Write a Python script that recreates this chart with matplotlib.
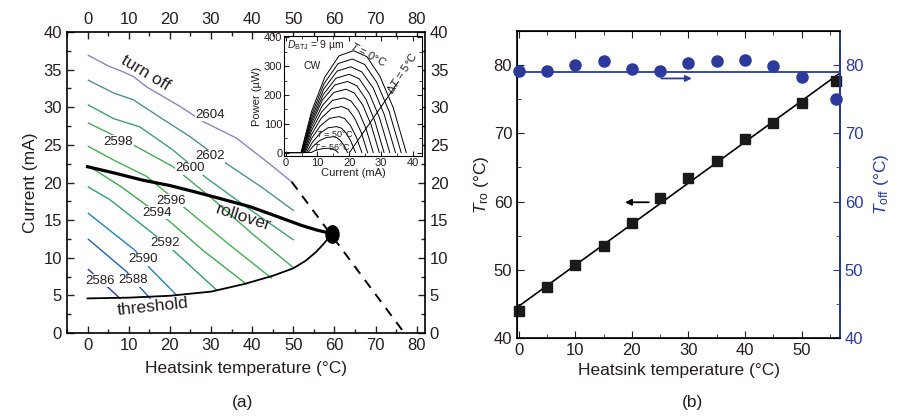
import numpy as np
import matplotlib
matplotlib.use("Agg")
import matplotlib.pyplot as plt
from matplotlib.path import Path
from matplotlib.ticker import MultipleLocator

plt.rcParams['font.family'] = ['Liberation Sans', 'DejaVu Sans']
plt.rcParams['mathtext.fontset'] = 'custom'
plt.rcParams['mathtext.rm'] = 'Liberation Sans'
plt.rcParams['mathtext.it'] = 'Liberation Sans:italic'
plt.rcParams['text.color'] = '#231f20'
plt.rcParams['axes.labelcolor'] = '#231f20'
plt.rcParams['xtick.color'] = '#231f20'
plt.rcParams['ytick.color'] = '#231f20'

BLUE = '#2b3a9c'

# ---- (a) wavelength contours in the heatsink temperature / current plane
contour_levels = [2604, 2602, 2600, 2598, 2596, 2594, 2592, 2590, 2588, 2586]
contour_colors = ['#8a86c0', '#4f9090', '#3f9f72', '#46aa5a', '#44b050',
                  '#3cac52', '#2f9f70', '#1f7fc4', '#2060b0', '#283a98']
contour_T = [
    [0.2, 5, 8.7, 11.1, 14.4, 22.5, 28.1, 36.2, 43.5, 49.6],
    [0.2, 6.3, 11.1, 19.2, 24.9, 33.8, 42, 50],
    [0.2, 6.3, 12.7, 20.8, 28.9, 40, 50],
    [0.2, 11.1, 20.8, 30, 40, 50],
    [0.2, 6.3, 14.4, 25, 35, 44.7],
    [0.2, 8, 16.8, 19.6, 28, 38.6],
    [0.2, 5.5, 16.4, 20.8, 31.4],
    [0.2, 11.5, 15.2, 21.6],
    [0.2, 9.5, 12.7, 15.2],
    [0.2, 5.5, 7.9],
]
contour_I = [
    [36.9, 35.5, 34.7, 34.1, 32.7, 30.1, 28.1, 25.9, 22.8, 20.1],
    [33.6, 31.9, 31.0, 28.1, 26.1, 22.5, 19.5, 16.3],
    [30.3, 28.5, 27.4, 24.3, 20.6, 16.2, 12.4],
    [27.9, 25.0, 22.1, 18.0, 13.2, 8.7],
    [24.8, 23.0, 20.8, 16.0, 11.5, 7.3],
    [22.2, 19.5, 16.0, 15.0, 11.0, 6.5],
    [19.4, 17.7, 13.0, 11.0, 5.7],
    [15.9, 11.0, 8.6, 5.05],
    [12.45, 8.15, 6.1, 4.6],
    [8.45, 5.8, 4.6],
]
label_T = [29.8, 29.7, 24.9, 7.5, 20.4, 16.8, 18.8, 13.5, 11.0, 3.0]
label_I = [29.0, 23.5, 21.9, 25.4, 17.6, 16.0, 11.9, 9.8, 7.0, 6.95]

threshold_T = [0, 10, 20, 30, 38, 45, 50, 53, 55.6, 57.3, 58.5, 59.2]
threshold_I = [4.6, 4.7, 4.95, 5.5, 6.5, 7.6, 8.6, 9.6, 10.8, 11.8, 12.6, 13.1]
rollover_T = [0, 7, 13.5, 20, 25.8, 32, 39.4, 44, 48, 52, 55.6, 59.4]
rollover_I = [22.1, 21.2, 20.3, 19.6, 18.8, 17.9, 16.8, 15.9, 15.1, 14.3, 13.7, 13.2]
turnoff_extrap_T = [49.6, 77.0]
turnoff_extrap_I = [20.1, 0.0]
meet_T, meet_I = 59.4, 13.2

# ---- inset: L-I curves, T = 0..50 step 5 and 56 C
li_current = [
    [0, 4.8, 8.1, 12.3, 16.8, 21.4, 25.6, 29.7, 33.9, 38.0],
    [0, 4.9, 8.1, 12.1, 16.5, 21.0, 24.9, 28.7, 32.6, 36.4],
    [0, 5.0, 8.1, 12.0, 16.2, 20.5, 24.0, 27.6, 31.1, 34.6],
    [0, 5.1, 8.1, 11.8, 15.8, 20.0, 23.2, 26.4, 29.6, 32.8],
    [0, 5.2, 8.1, 11.6, 15.5, 19.5, 22.4, 25.3, 28.1, 31.0],
    [0, 5.4, 8.1, 11.5, 15.2, 19.0, 21.6, 24.3, 26.9, 29.5],
    [0, 5.6, 8.1, 11.3, 14.7, 18.3, 20.6, 23.0, 25.3, 27.6],
    [0, 5.8, 8.2, 11.1, 14.3, 17.6, 19.7, 21.7, 23.8, 25.8],
    [0, 6.1, 8.2, 10.9, 13.8, 16.8, 18.6, 20.4, 22.2, 24.0],
    [0, 6.5, 8.4, 10.8, 13.3, 16.0, 17.5, 19.0, 20.5, 22.0],
    [0, 7.0, 8.6, 10.6, 12.8, 15.0, 16.1, 17.3, 18.4, 19.5],
    [0, 8.0, 9.1, 10.5, 12.0, 13.5, 14.3, 15.0, 15.8, 16.5],
]
li_power = [
    [0, 0, 142, 262, 336, 354, 333, 265, 156, 0],
    [0, 0, 130, 240, 309, 325, 306, 244, 143, 0],
    [0, 0, 119, 221, 283, 298, 280, 224, 131, 0],
    [0, 0, 109, 201, 258, 272, 256, 204, 120, 0],
    [0, 0, 99, 183, 235, 247, 232, 185, 109, 0],
    [0, 0, 88, 163, 209, 220, 207, 165, 97, 0],
    [0, 0, 76, 141, 181, 190, 179, 143, 84, 0],
    [0, 0, 64, 118, 152, 160, 150, 120, 70, 0],
    [0, 0, 50, 93, 119, 125, 118, 94, 55, 0],
    [0, 0, 36, 67, 86, 90, 85, 68, 40, 0],
    [0, 0, 22, 41, 52, 55, 52, 41, 24, 0],
    [0, 0, 6, 11, 14, 15, 14, 11, 7, 0],
]
dT_line_I = [20.3, 35.5]
dT_line_P = [3, 246]

# ---- (b) rollover and turn-off temperatures
heatsink = [0, 5, 10, 15, 20, 25, 30, 35, 40, 45, 50, 56]
T_ro = [43.95, 47.5, 50.7, 53.5, 56.8, 60.5, 63.5, 66.0, 69.1, 71.5, 74.4, 77.7]
T_off = [79.1, 79.1, 80.0, 80.6, 79.4, 79.2, 80.25, 80.55, 80.8, 79.9, 78.2, 75.0]
T_off_level = 79.0

# tall elliptical marker for the rollover / turn-off meeting point
ang = np.linspace(0, 2 * np.pi, 60)
ellipse_marker = Path(np.column_stack([0.75 * np.cos(ang), np.sin(ang)]), closed=True)

fig = plt.figure(figsize=(8.99, 4.17), dpi=100)

# ================= panel (a)
ax1 = fig.add_axes([0.0745, 0.2014, 0.3982, 0.7218])
ax1.set_xlim(-5, 82)
ax1.set_ylim(0, 40)
for lev, c, t, i in zip(contour_levels, contour_colors, contour_T, contour_I):
    ax1.plot(t, i, color=c, lw=1.0, zorder=2)
for lev, x, y in zip(contour_levels, label_T, label_I):
    ax1.text(x, y, str(lev), fontsize=9.5, ha='center', va='center', zorder=3,
             bbox=dict(fc='white', ec='none', pad=0.4))
ax1.plot(threshold_T, threshold_I, color='k', lw=1.3, zorder=4)
ax1.plot(rollover_T, rollover_I, color='k', lw=2.3, zorder=4)
ax1.plot(turnoff_extrap_T, turnoff_extrap_I, color='k', lw=1.4, ls=(0, (5, 4)), zorder=4)
ax1.plot([meet_T], [meet_I], marker=ellipse_marker, color='k', ms=12.5, zorder=5)

ax1.text(14.0, 34.5, 'turn off', fontsize=12.5, rotation=-31, ha='center', va='center')
ax1.text(37.8, 15.4, 'rollover', fontsize=12.5, rotation=-18, ha='center', va='center')
ax1.text(15.8, 3.5, 'threshold', fontsize=12.5, rotation=6, ha='center', va='center')

ax1.xaxis.set_major_locator(MultipleLocator(10))
ax1.xaxis.set_minor_locator(MultipleLocator(5))
ax1.yaxis.set_major_locator(MultipleLocator(5))
ax1.yaxis.set_minor_locator(MultipleLocator(2.5))
ax1.tick_params(which='both', direction='in', top=True, right=True,
                labeltop=True, labelright=True, labelsize=12, width=1)
ax1.tick_params(which='major', length=5)
ax1.tick_params(which='minor', length=3)
ax1.set_xlabel('Heatsink temperature (°C)', fontsize=12.5, labelpad=6)
ax1.set_ylabel('Current (mA)', fontsize=12.5, labelpad=4)
for s in ax1.spines.values():
    s.set_linewidth(1.2)

# ---- inset
axin = fig.add_axes([0.3163, 0.6259, 0.1532, 0.2878])
axin.set_xlim(-0.45, 43)
axin.set_ylim(-12, 405)
for cur, pw in zip(li_current, li_power):
    axin.plot(cur, pw, color='k', lw=0.7)
axin.plot(dT_line_I, dT_line_P, color='k', lw=0.7)
axin.text(0.3, 372, r'$D_{\rm BTJ}$ = 9 µm', fontsize=7.5, ha='left', va='center')
axin.text(26.2, 343, r'$T$ = 0°C', fontsize=8, rotation=-28, ha='center', va='center')
axin.text(8.2, 300, 'CW', fontsize=7.5, ha='center', va='center')
axin.text(36.6, 276, r'Δ$T$ = 5°C', fontsize=8, rotation=57, ha='center', va='center')
axin.text(15.5, 66, r'$T$ = 50°C', fontsize=6.5, ha='center', va='center')
axin.text(14.6, 22, r'$T$ = 56°C', fontsize=6.5, ha='center', va='center')
axin.xaxis.set_major_locator(MultipleLocator(10))
axin.xaxis.set_minor_locator(MultipleLocator(5))
axin.yaxis.set_major_locator(MultipleLocator(100))
axin.yaxis.set_minor_locator(MultipleLocator(50))
axin.tick_params(which='both', direction='in', top=True, right=True,
                 labelsize=8, pad=1.5)
axin.tick_params(which='major', length=3.5)
axin.tick_params(which='minor', length=2)
axin.set_xlabel('Current (mA)', fontsize=8, labelpad=0)
axin.set_ylabel('Power (µW)', fontsize=8, labelpad=1)

fig.text(0.270, 0.034, '(a)', fontsize=12.5, ha='center', va='center')

# ================= panel (b)
ax2 = fig.add_axes([0.5751, 0.1894, 0.3593, 0.7362])
ax2.set_xlim(-0.3, 56.8)
ax2.set_ylim(40, 85)
slope, icpt = np.polyfit(heatsink, T_ro, 1)
fit_x = np.array([heatsink[0], heatsink[-1] + 0.5])
ax2.plot(fit_x, slope * fit_x + icpt, color='k', lw=1.2, zorder=2)
ax2.plot(heatsink, T_ro, 's', color='#1a1a1a', ms=7.5, zorder=3, clip_on=False)
ax2.annotate('', xy=(18.8, 59.9), xytext=(23.0, 59.9),
             arrowprops=dict(arrowstyle='-|>', color='k', lw=1.3, mutation_scale=9,
                             shrinkA=0, shrinkB=0))
ax2.xaxis.set_major_locator(MultipleLocator(10))
ax2.xaxis.set_minor_locator(MultipleLocator(5))
ax2.yaxis.set_major_locator(MultipleLocator(10))
ax2.yaxis.set_minor_locator(MultipleLocator(5))
ax2.tick_params(which='both', direction='in', top=True, right=False, labelsize=12)
ax2.tick_params(which='major', length=5)
ax2.tick_params(which='minor', length=3)
ax2.set_xlabel('Heatsink temperature (°C)', fontsize=12.5, labelpad=4)
ax2.set_ylabel(r'$T_{\rm ro}$ (°C)', fontsize=12.5, labelpad=2)
for s in ax2.spines.values():
    s.set_linewidth(1.2)

ax3 = ax2.twinx()
ax3.set_ylim(40, 85)
ax3.axhline(T_off_level, color=BLUE, lw=1.3, zorder=2)
ax3.plot(heatsink, T_off, 'o', color=BLUE, ms=8, zorder=3, clip_on=False)
ax3.annotate('', xy=(30.6, 78.05), xytext=(25.2, 78.05),
             arrowprops=dict(arrowstyle='-|>', color=BLUE, lw=1.3, mutation_scale=9,
                             shrinkA=0, shrinkB=0))
ax3.yaxis.set_major_locator(MultipleLocator(10))
ax3.yaxis.set_minor_locator(MultipleLocator(5))
ax3.tick_params(axis='y', which='both', direction='in', colors=BLUE, labelsize=12)
ax3.tick_params(which='major', length=5)
ax3.tick_params(which='minor', length=3)
ax3.spines['right'].set_color(BLUE)
ax3.spines['right'].set_linewidth(1.2)
ax3.set_ylabel(r'$T_{\rm off}$ (°C)', fontsize=12.5, color=BLUE, labelpad=6)

fig.text(0.770, 0.034, '(b)', fontsize=12.5, ha='center', va='center')

fig.savefig('out.png', dpi=100)
